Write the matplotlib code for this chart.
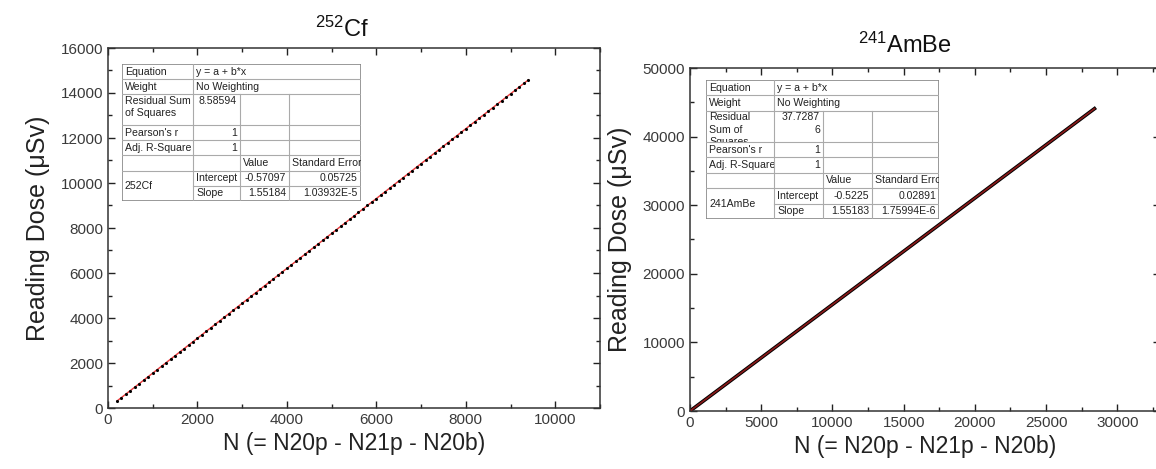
import matplotlib
matplotlib.use('Agg')
import matplotlib.pyplot as plt
from matplotlib.patches import Rectangle
from matplotlib.ticker import MultipleLocator
from matplotlib.transforms import Bbox, TransformedBbox

plt.rcParams['font.family'] = ['Liberation Sans', 'DejaVu Sans']
plt.rcParams['mathtext.fontset'] = 'custom'
plt.rcParams['mathtext.rm'] = 'Liberation Sans'

# 252Cf readings
cf_n = [200, 300, 400, 500, 600, 700, 800, 900, 1000, 1100, 1200, 1300, 1400, 1500,
        1600, 1700, 1800, 1900, 2000, 2100, 2200, 2300, 2400, 2500, 2600, 2700, 2800,
        2900, 3000, 3100, 3200, 3300, 3400, 3500, 3600, 3700, 3800, 3900, 4000, 4100,
        4200, 4300, 4400, 4500, 4600, 4700, 4800, 4900, 5000, 5100, 5200, 5300, 5400,
        5500, 5600, 5700, 5800, 5900, 6000, 6100, 6200, 6300, 6400, 6500, 6600, 6700,
        6800, 6900, 7000, 7100, 7200, 7300, 7400, 7500, 7600, 7700, 7800, 7900, 8000,
        8100, 8200, 8300, 8400, 8500, 8600, 8700, 8800, 8900, 9000, 9100, 9200, 9300, 9400]
cf_dose = [310, 465, 620, 775, 931, 1086, 1241, 1396, 1551, 1706, 1862, 2017, 2172, 2327,
           2482, 2638, 2793, 2948, 3103, 3258, 3413, 3569, 3724, 3879, 4034, 4189, 4345,
           4500, 4655, 4810, 4965, 5121, 5276, 5431, 5586, 5741, 5896, 6052, 6207, 6362,
           6517, 6672, 6828, 6983, 7138, 7293, 7448, 7603, 7759, 7914, 8069, 8224, 8379,
           8535, 8690, 8845, 9000, 9155, 9310, 9466, 9621, 9776, 9931, 10086, 10242, 10397,
           10552, 10707, 10862, 11017, 11173, 11328, 11483, 11638, 11793, 11949, 12104,
           12259, 12414, 12569, 12725, 12880, 13035, 13190, 13345, 13500, 13656, 13811,
           13966, 14121, 14276, 14432, 14587]
cf_label = '252Cf'
cf_rss = '8.58594'
cf_intercept, cf_intercept_err = -0.57097, '0.05725'
cf_slope, cf_slope_err = 1.55184, '1.03932E-5'

# 241AmBe readings
amb_n = [100, 5000, 10000, 15000, 20000, 25000, 28400]
amb_dose = [155, 7759, 15518, 23277, 31036, 38795, 44072]
amb_label = '241AmBe'
amb_rss = '37.7287\n6'
amb_intercept, amb_intercept_err = -0.5225, '0.02891'
amb_slope, amb_slope_err = 1.55183, '1.75994E-6'

W, H = 1156, 469
fig = plt.figure(figsize=(W / 100, H / 100), dpi=100)


def px_axes(x0, y0, x1, y1):
    return fig.add_axes([x0 / W, 1 - y1 / H, (x1 - x0) / W, (y1 - y0) / H])


def style_axes(ax, xmaj, xmin, ymaj, ymin):
    ax.xaxis.set_major_locator(MultipleLocator(xmaj))
    ax.xaxis.set_minor_locator(MultipleLocator(xmin))
    ax.yaxis.set_major_locator(MultipleLocator(ymaj))
    ax.yaxis.set_minor_locator(MultipleLocator(ymin))
    ax.tick_params(which='both', direction='in', top=True, right=True,
                   labelsize=11, labelcolor='#3a3a3a', color='#222222', width=1)
    ax.tick_params(which='major', length=5)
    ax.tick_params(which='minor', length=3)
    for s in ax.spines.values():
        s.set_linewidth(1.1)
        s.set_color('#333333')
    ax.set_xlabel('N (= N20p - N21p - N20b)', fontsize=16.5, color='#222222', labelpad=4)
    ax.set_ylabel('Reading Dose (\u03bcSv)', fontsize=18, color='#222222', labelpad=8)


def draw_table(x0, y0, x1, y1, cols, label, rss, a, a_err, b, b_err, res_txt):
    tab = px_axes(x0, y0, x1, y1)
    w, h = x1 - x0, y1 - y0
    tab.set_xlim(0, w)
    tab.set_ylim(h, 0)
    tab.axis('off')
    u = h / 9.0
    rows = [0, u, 2 * u, 4 * u, 5 * u, 6 * u, 7 * u, 8 * u, 9 * u]
    c = cols
    lc = '#aaaaaa'
    tab.add_patch(Rectangle((0, 0), w, h, fill=True, fc='white', ec='#888888', lw=1.2))
    for r in rows[1:-1]:
        if r == rows[7]:
            tab.plot([c[1], c[4]], [r, r], color=lc, lw=0.8)
        else:
            tab.plot([0, w], [r, r], color=lc, lw=0.8)
    tab.plot([c[1], c[1]], [0, h], color=lc, lw=0.8)
    tab.plot([c[2], c[2]], [rows[2], h], color=lc, lw=0.8)
    tab.plot([c[3], c[3]], [rows[2], h], color=lc, lw=0.8)

    fs = 7.6
    tc = '#222222'

    def cell(txt, col, r0, r1, ha='left', va='center', span=1):
        right = c[col + span]
        box = TransformedBbox(Bbox.from_extents(c[col], r0, right, r1), tab.transData)
        x = c[col] + 3 if ha == 'left' else right - 3
        y = (r0 + r1) / 2 if va == 'center' else r0 + 1.5
        t = tab.text(x, y, txt, ha=ha, va=va, fontsize=fs, color=tc,
                     linespacing=1.3)
        t.set_clip_box(box)
        t.set_clip_on(True)

    cell('Equation', 0, rows[0], rows[1])
    cell('y = a + b*x', 1, rows[0], rows[1], span=3)
    cell('Weight', 0, rows[1], rows[2])
    cell('No Weighting', 1, rows[1], rows[2], span=3)
    cell(res_txt, 0, rows[2], rows[3], va='top')
    cell(rss, 1, rows[2], rows[3], ha='right', va='top')
    cell("Pearson's r", 0, rows[3], rows[4])
    cell('1', 1, rows[3], rows[4], ha='right')
    cell('Adj. R-Square', 0, rows[4], rows[5])
    cell('1', 1, rows[4], rows[5], ha='right')
    cell('Value', 2, rows[5], rows[6])
    cell('Standard Error', 3, rows[5], rows[6])
    cell(label, 0, rows[6], rows[8])
    cell('Intercept', 1, rows[6], rows[7])
    cell('Slope', 1, rows[7], rows[8])
    cell(f'{a:g}', 2, rows[6], rows[7], ha='right')
    cell(f'{b:g}', 2, rows[7], rows[8], ha='right')
    cell(a_err, 3, rows[6], rows[7], ha='right')
    cell(b_err, 3, rows[7], rows[8], ha='right')


# left panel
ax1 = px_axes(108, 48, 600, 408)
ax1.plot([cf_n[0], cf_n[-1]],
         [cf_intercept + cf_slope * cf_n[0], cf_intercept + cf_slope * cf_n[-1]],
         color='#e8393a', lw=1.0, zorder=2)
ax1.scatter(cf_n, cf_dose, s=5, color='black', zorder=3, linewidths=0)
ax1.set_xlim(0, 11000)
ax1.set_ylim(0, 16000)
style_axes(ax1, 2000, 1000, 2000, 1000)
fig.text(342 / W, 1 - 29 / H, r'$\mathregular{^{252}}$Cf', ha='center', va='center',
         fontsize=17, color='#111111')

# right panel
ax2 = px_axes(690, 68, 1160, 411)
ax2.plot(amb_n, amb_dose, color='black', lw=2.6, zorder=2)
ax2.plot([amb_n[0], amb_n[-1]],
         [amb_intercept + amb_slope * amb_n[0], amb_intercept + amb_slope * amb_n[-1]],
         color='#8b1a1a', lw=1.2, zorder=3)
ax2.set_xlim(0, 33000)
ax2.set_ylim(0, 50000)
style_axes(ax2, 5000, 2500, 10000, 5000)
fig.text(905 / W, 1 - 45 / H, r'$\mathregular{^{241}}$AmBe', ha='center', va='center',
         fontsize=17, color='#111111')

draw_table(122, 64, 361, 201, [0, 71, 118, 167, 239], cf_label, cf_rss,
           cf_intercept, cf_intercept_err, cf_slope, cf_slope_err, 'Residual Sum\nof Squares')
draw_table(706, 80, 939, 219, [0, 68, 117, 166, 233], amb_label, amb_rss,
           amb_intercept, amb_intercept_err, amb_slope, amb_slope_err,
           'Residual\nSum of\nSquares')

fig.savefig('out.png', dpi=100)
